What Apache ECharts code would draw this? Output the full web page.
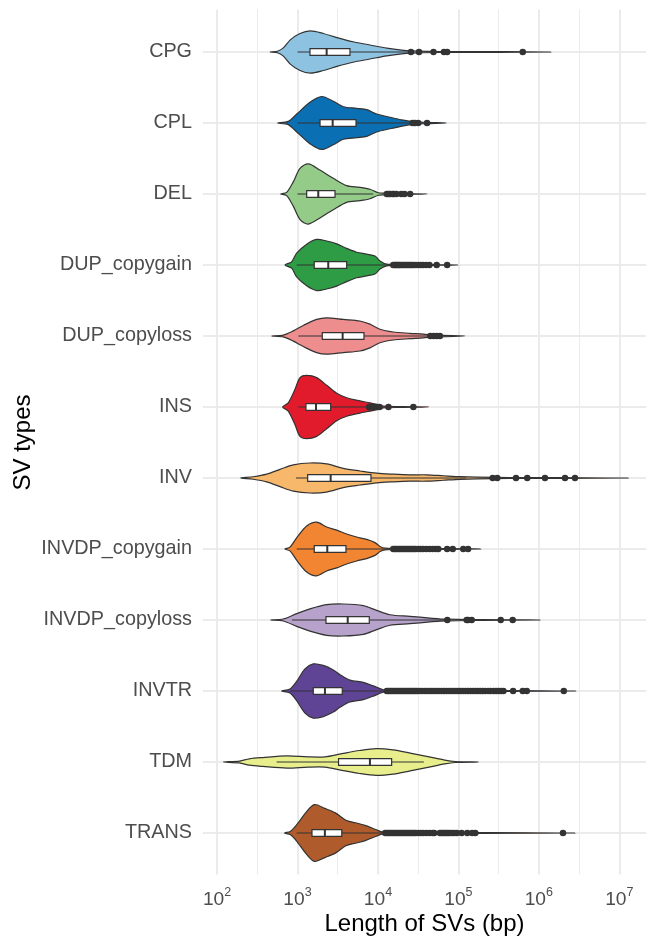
<!DOCTYPE html>
<html>
<head>
<meta charset="utf-8">
<script src="https://cdn.jsdelivr.net/npm/echarts@6/dist/echarts.min.js"></script>
<style>
  html, body { margin: 0; padding: 0; background: #fff; }
  #chart { width: 646px; height: 937px; }
</style>
</head>
<body>
<div id="chart"></div>
<script>
// SV types, top to bottom
const categories = ['CPG', 'CPL', 'DEL', 'DUP_copygain', 'DUP_copyloss', 'INS', 'INV',
  'INVDP_copygain', 'INVDP_copyloss', 'INVTR', 'TDM', 'TRANS']

// box stats, log10(length in bp)
const lowerWhisker = [3.0, 3.0, 3.0, 2.99, 3.01, 3.01, 2.98, 2.99, 2.93, 2.91, 2.74, 2.99]
const q1 = [3.155, 3.28, 3.114, 3.208, 3.308, 3.105, 3.126, 3.208, 3.354, 3.196, 3.51, 3.18]
const medians = [3.362, 3.437, 3.258, 3.382, 3.561, 3.23, 3.412, 3.37, 3.624, 3.341, 3.90, 3.34]
const q3 = [3.652, 3.727, 3.466, 3.611, 3.826, 3.412, 3.913, 3.602, 3.892, 3.556, 4.17, 3.55]
const upperWhisker = [4.41, 4.43, 3.94, 4.19, 4.65, 3.90, 5.1, 4.19, 4.86, 4.11, 4.57, 4.09]

// violin profiles: [log10(length), relative density]
const cpgDensity = [[2.66, 0], [2.75, .025], [2.82, .12], [2.91, .38], [3.03, .58], [3.16, .66], [3.32, .58],
  [3.49, .45], [3.69, .32], [3.90, .22], [4.11, .12], [4.32, .05], [4.5, .025], [4.8, .016], [5.5, .01], [6.15, 0]]
const cplDensity = [[2.75, 0], [2.885, .05], [2.99, .28], [3.155, .65], [3.30, .83], [3.445, .68], [3.57, .51],
  [3.735, .46], [3.86, .42], [3.985, .28], [4.15, .18], [4.315, .09], [4.44, .04], [4.6, .02], [4.85, 0]]
const delDensity = [[2.79, 0], [2.865, .05], [2.947, .38], [3.031, .80], [3.134, .94], [3.279, .75], [3.445, .49],
  [3.611, .26], [3.776, .21], [3.90, .15], [4.004, .04], [4.066, .025], [4.3, .012], [4.61, 0]]
const dupGainDensity = [[2.844, 0], [2.927, .10], [2.989, .37], [3.114, .65], [3.238, .80], [3.362, .75], [3.487, .66],
  [3.611, .52], [3.735, .40], [3.86, .34], [3.963, .28], [4.025, .125], [4.108, .025], [4.4, .016], [4.7, .01], [5.0, 0]]
const dupLossDensity = [[2.679, 0], [2.823, .03], [2.947, .16], [3.072, .33], [3.238, .52], [3.362, .57], [3.569, .52],
  [3.776, .47], [3.90, .37], [4.025, .21], [4.19, .125], [4.398, .085], [4.563, .06], [4.688, .025], [5.08, 0]]
const insDensity = [[2.815, 0], [2.885, .13], [2.968, .55], [3.031, .92], [3.114, .99], [3.238, .92], [3.362, .68],
  [3.487, .43], [3.611, .29], [3.776, .19], [3.90, .13], [3.984, .08], [4.066, .025], [4.3, .012], [4.63, 0]]
const invDensity = [[2.293, 0], [2.45, .04], [2.617, .12], [2.782, .27], [2.947, .41], [3.155, .47], [3.362, .44],
  [3.569, .30], [3.776, .22], [3.984, .15], [4.19, .12], [4.398, .10], [4.606, .10], [4.812, .07], [5.02, .04],
  [5.227, .025], [5.64, .016], [6.3, .01], [7.112, 0]]
const invdpGainDensity = [[2.844, 0], [2.906, .06], [2.989, .35], [3.114, .72], [3.238, .84], [3.362, .69], [3.487, .59],
  [3.611, .47], [3.735, .375], [3.86, .30], [3.963, .20], [4.025, .08], [4.087, .025], [4.5, .016], [5.277, 0]]
const invdpLossDensity = [[2.666, 0], [2.823, .03], [2.989, .20], [3.155, .35], [3.362, .48], [3.569, .50], [3.818, .45],
  [3.984, .30], [4.149, .165], [4.398, .115], [4.647, .06], [4.854, .025], [5.3, .012], [6.014, 0]]
const invtrDensity = [[2.803, 0], [2.906, .06], [2.989, .30], [3.093, .69], [3.196, .85], [3.32, .80], [3.445, .66],
  [3.528, .51], [3.652, .34], [3.818, .27], [3.942, .16], [4.066, .04], [4.149, .02], [4.8, .012], [5.6, .01], [6.458, 0]]
const tdmDensity = [[2.08, 0], [2.28, .03], [2.40, .10], [2.57, .14], [2.87, .19], [3.13, .16], [3.34, .16],
  [3.55, .26], [3.77, .36], [3.98, .42], [4.19, .38], [4.40, .28], [4.62, .17], [4.83, .06], [4.96, .016], [5.25, 0]]
const transDensity = [[2.84, 0], [2.91, .05], [3.0, .29], [3.11, .66], [3.21, .89], [3.34, .77], [3.47, .63],
  [3.60, .40], [3.72, .32], [3.85, .23], [3.98, .10], [4.06, .025], [4.6, .012], [5.3, .01], [6.45, 0]]

// outliers, log10(length)
const cpgOutliers = [4.41, 4.51, 4.69, 4.82, 4.86, 5.80]
const cplOutliers = [4.43, 4.46, 4.50, 4.61]
const delOutliers = [4.11, 4.13, 4.15, 4.18, 4.20, 4.23, 4.29, 4.33, 4.40]
const dupGainOutliers = [4.19, 4.205, 4.22, 4.235, 4.25, 4.265, 4.28, 4.30, 4.32, 4.34, 4.36, 4.38, 4.40, 4.42,
  4.44, 4.47, 4.50, 4.53, 4.56, 4.60, 4.64, 4.73, 4.86]
const dupLossOutliers = [4.65, 4.69, 4.73, 4.77]
const insOutliers = [3.89, 3.91, 3.94, 3.96, 3.99, 4.02, 4.13, 4.44]
const invOutliers = [5.426, 5.483, 5.716, 5.856, 6.076, 6.325, 6.449]
const invdpGainOutliers = [4.19, 4.21, 4.23, 4.25, 4.27, 4.29, 4.31, 4.33, 4.35, 4.37, 4.39, 4.41, 4.43, 4.45,
  4.47, 4.50, 4.53, 4.56, 4.60, 4.64, 4.68, 4.72, 4.75, 4.86, 4.93, 5.06, 5.12]
const invdpLossOutliers = [4.862, 5.103, 5.12, 5.165, 5.526, 5.675]
const invtrOutliers = [4.11, 4.13, 4.15, 4.17, 4.19, 4.21, 4.23, 4.25, 4.27, 4.29, 4.31, 4.33, 4.35, 4.37, 4.39,
  4.41, 4.43, 4.45, 4.47, 4.49, 4.52, 4.55, 4.58, 4.61, 4.64, 4.67, 4.70, 4.73, 4.76, 4.79, 4.82, 4.85, 4.88,
  4.91, 4.94, 4.97, 5.00, 5.03, 5.06, 5.09, 5.12, 5.15, 5.18, 5.21, 5.24, 5.27, 5.30, 5.33, 5.37, 5.40, 5.44,
  5.47, 5.50, 5.53, 5.56, 5.68, 5.80, 5.85, 6.31]
const tdmOutliers = []
const transOutliers = [4.09, 4.11, 4.13, 4.15, 4.17, 4.19, 4.21, 4.23, 4.25, 4.27, 4.29, 4.31, 4.33, 4.35, 4.37,
  4.39, 4.41, 4.43, 4.45, 4.47, 4.50, 4.53, 4.56, 4.60, 4.64, 4.68, 4.70, 4.77, 4.79, 4.81, 4.83, 4.85, 4.87,
  4.89, 4.92, 4.95, 4.98, 5.04, 5.11, 5.17, 5.21, 6.30]

// x axis (log10 bp)
const majorBreaks = [2, 3, 4, 5, 6, 7]
const minorBreaks = [2.5, 3.5, 4.5, 5.5, 6.5]
const xMin = 1.825
const xMax = 7.332

const densities = [cpgDensity, cplDensity, delDensity, dupGainDensity, dupLossDensity, insDensity, invDensity,
  invdpGainDensity, invdpLossDensity, invtrDensity, tdmDensity, transDensity]
const outliers = [cpgOutliers, cplOutliers, delOutliers, dupGainOutliers, dupLossOutliers, insOutliers, invOutliers,
  invdpGainOutliers, invdpLossOutliers, invtrOutliers, tdmOutliers, transOutliers]

const colors = ['#8DC3E0', '#0B6FB3', '#95CB89', '#2E9B45', '#EE8D8D', '#E21B2C', '#F7B86B',
  '#F28532', '#B6A2CA', '#5F4394', '#E9EE8C', '#B05B2B']

const FONT = '"Liberation Sans", Arial, Helvetica, sans-serif'
const LINE = '#333333'
const GRID = '#EBEBEB'

const mChart = echarts.init(document.getElementById('chart'))

function renderViolin(params, api) {
    const i = params.dataIndex
    const band = api.size([0, 1])[1]
    const maxHalf = band * 0.45
    const prof = densities[i]
    const top = prof.map(p => {
        const c = api.coord([p[0], i])
        return [c[0], c[1] - p[1] * maxHalf]
    })
    // tips are shared with the top edge
    const bottom = prof.slice(1, -1).reverse().map(p => {
        const c = api.coord([p[0], i])
        return [c[0], c[1] + p[1] * maxHalf]
    })
    return {
        type: 'polygon',
        shape: { points: top.concat(bottom), smooth: 0.3 },
        style: { fill: colors[i], stroke: LINE, lineWidth: 1.2 }
    }
}

function renderBox(params, api) {
    const i = params.dataIndex
    const band = api.size([0, 1])[1]
    const h = band * 0.095
    const lo = api.coord([lowerWhisker[i], i])
    const hi = api.coord([upperWhisker[i], i])
    const b1 = api.coord([q1[i], i])
    const b3 = api.coord([q3[i], i])
    const md = api.coord([medians[i], i])
    return {
        type: 'group',
        children: [
            { type: 'line', shape: { x1: lo[0], y1: lo[1], x2: hi[0], y2: hi[1] },
              style: { stroke: LINE, lineWidth: 1.2 } },
            { type: 'rect', shape: { x: b1[0], y: b1[1] - h / 2, width: b3[0] - b1[0], height: h },
              style: { fill: '#fff', stroke: LINE, lineWidth: 1.2 } },
            { type: 'line', shape: { x1: md[0], y1: md[1] - h / 2, x2: md[0], y2: md[1] + h / 2 },
              style: { stroke: LINE, lineWidth: 2 } }
        ]
    }
}

const catData = categories.map((c, i) => [medians[i], i])
const outlierData = []
outliers.forEach((arr, i) => {
    arr.forEach(v => outlierData.push([v, i]))
})

const option = {
    animation: false,
    grid: [
        // full panel: vertical grid lines + x axis
        { left: 203, right: 0, top: 9.4, bottom: 62.5, outerBoundsMode: 'none', containLabel: false },
        // first to last category centre
        { left: 203, right: 0, top: 52, bottom: 104, outerBoundsMode: 'none', containLabel: false }
    ],
    xAxis: [{
        gridIndex: 0,
        type: 'value',
        min: xMin,
        max: xMax,
        splitNumber: 5,
        axisLine: { show: false },
        axisTick: { show: false },
        splitLine: { show: false },
        axisLabel: {
            margin: 11.4,
            formatter: v => {
                const r = Math.round(v)
                if (Math.abs(v - r) > 1e-6) return ''
                return '{b|10}{s|' + r + '}'
            },
            rich: {
                b: { fontSize: 19.2, color: '#4D4D4D', fontFamily: FONT, lineHeight: 23.5, verticalAlign: 'bottom' },
                s: { fontSize: 12.5, color: '#4D4D4D', fontFamily: FONT, lineHeight: 23.5, verticalAlign: 'top' }
            }
        },
        name: 'Length of SVs (bp)',
        nameLocation: 'middle',
        nameGap: 37.5,
        nameMoveOverlap: false,
        nameTextStyle: { fontSize: 24, color: '#000', fontFamily: FONT }
    }, {
        gridIndex: 1,
        type: 'value',
        min: xMin,
        max: xMax,
        show: false
    }],
    yAxis: [{
        gridIndex: 0,
        type: 'value',
        min: 0,
        max: 1,
        show: false
    }, {
        gridIndex: 1,
        type: 'category',
        data: categories,
        inverse: true,
        boundaryGap: false,
        axisLine: { show: false },
        axisTick: { show: false },
        splitLine: { show: true, interval: 0, lineStyle: { color: GRID, width: 2 } },
        axisLabel: { interval: 0, margin: 11, fontSize: 19.8, color: '#4D4D4D', fontFamily: FONT,
            padding: [4, 0, 0, 0] },
        name: 'SV types',
        nameLocation: 'middle',
        nameRotate: 90,
        nameGap: 168,
        nameMoveOverlap: false,
        nameTextStyle: { fontSize: 24, color: '#000', fontFamily: FONT }
    }],
    series: [{
        // carries the vertical grid lines
        type: 'line',
        xAxisIndex: 0,
        yAxisIndex: 0,
        data: [[xMin, 0]],
        showSymbol: false,
        lineStyle: { opacity: 0 },
        silent: true,
        z: 0,
        markLine: {
            z: 0,
            silent: true,
            symbol: 'none',
            label: { show: false },
            animation: false,
            data: minorBreaks.map(v => ({ xAxis: v, lineStyle: { color: GRID, width: 1, type: 'solid' } }))
                .concat(majorBreaks.map(v => ({ xAxis: v, lineStyle: { color: GRID, width: 2, type: 'solid' } })))
        }
    }, {
        type: 'custom',
        xAxisIndex: 1,
        yAxisIndex: 1,
        renderItem: renderViolin,
        encode: { x: 0, y: 1 },
        data: catData,
        z: 2
    }, {
        type: 'custom',
        xAxisIndex: 1,
        yAxisIndex: 1,
        renderItem: renderBox,
        encode: { x: 0, y: 1 },
        data: catData,
        z: 3
    }, {
        type: 'scatter',
        xAxisIndex: 1,
        yAxisIndex: 1,
        data: outlierData,
        symbolSize: 6.5,
        itemStyle: { color: LINE, opacity: 1 },
        z: 4
    }]
}
mChart.setOption(option)
</script>
</body>
</html>
